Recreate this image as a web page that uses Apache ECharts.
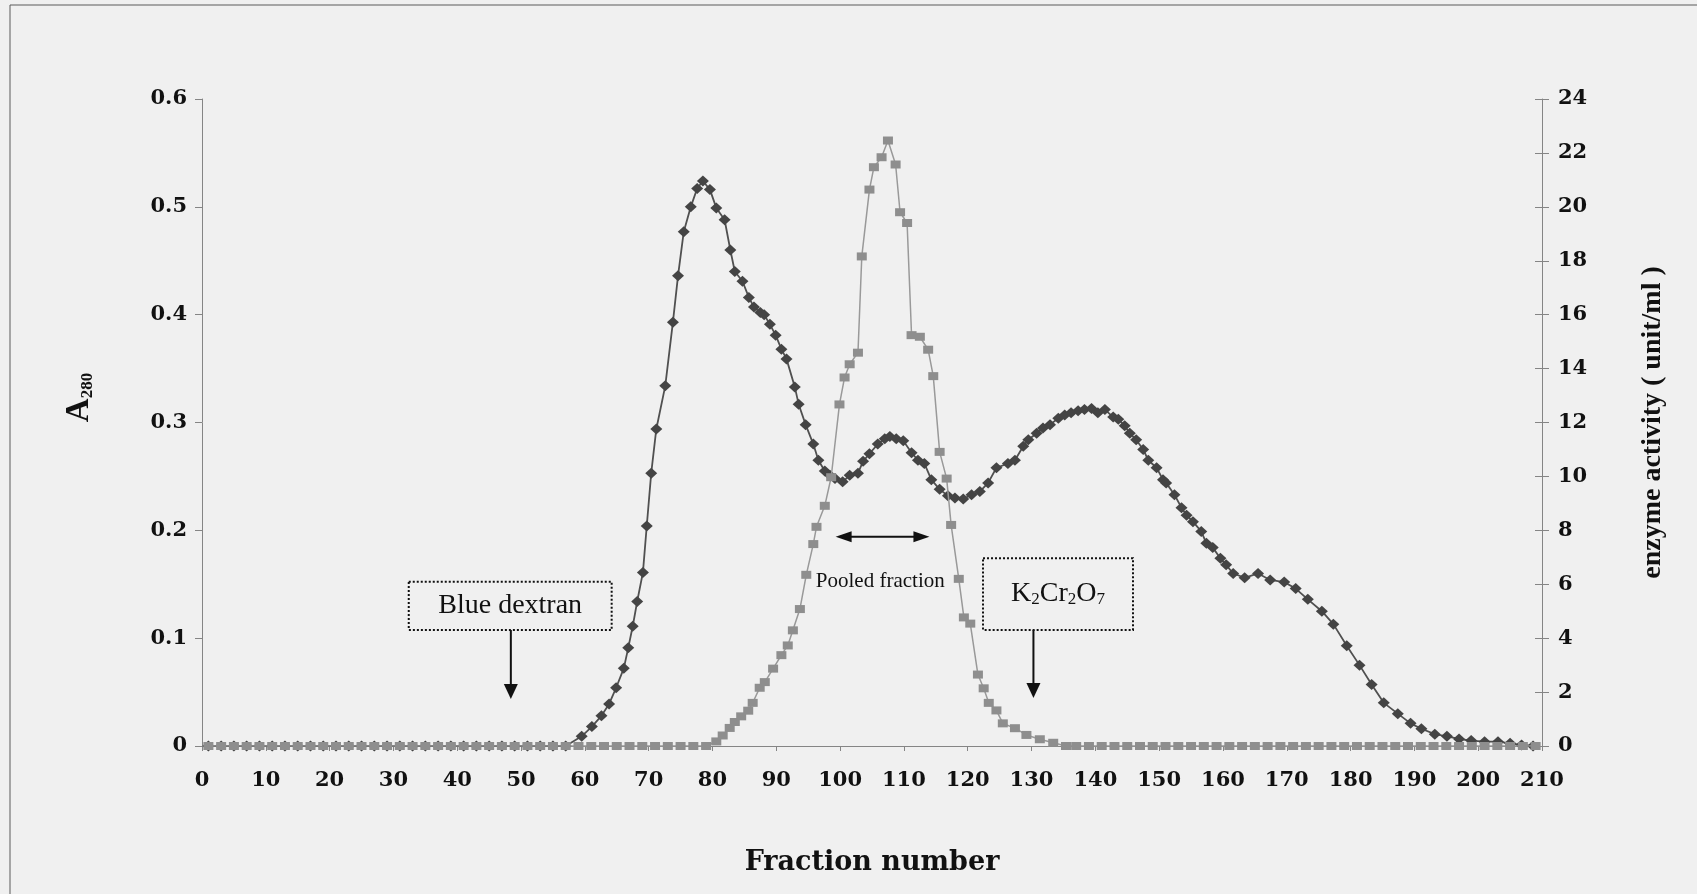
<!DOCTYPE html>
<html><head><meta charset="utf-8">
<script src="https://cdn.jsdelivr.net/npm/echarts@6/dist/echarts.min.js"></script>
<style>html,body{margin:0;padding:0;background:#f0f0f0}#c{width:1697px;height:894px}</style>
</head><body><div id="c"></div>
<script>
// ---- data ----
const xAxisRange = [0, 210];
const leftAxisRange = [0, 0.6];
const rightAxisRange = [0, 24];
const xAxisTitle = 'Fraction number';
const leftAxisTitle = '{a|A}{s|280}';
const rightAxisTitle = 'enzyme activity ( unit/ml )';

// A280 (left axis): [fraction, absorbance]
const a280Points = [
  [1,0],[3,0],[5,0],[7,0],[9,0],[11,0],[13,0],[15,0],[17,0],[19,0],[21,0],[23,0],[25,0],[27,0],[29,0],
  [31,0],[33,0],[35,0],[37,0],[39,0],[41,0],[43,0],[45,0],[47,0],[49,0],[51,0],[53,0],[55,0],[57,0],
  [59.5,0.009],[61.1,0.018],[62.6,0.028],[63.8,0.039],[64.9,0.054],[66.1,0.072],[66.8,0.091],[67.5,0.111],
  [68.2,0.134],[69.1,0.161],[69.7,0.204],[70.4,0.253],[71.2,0.294],[72.6,0.334],[73.8,0.393],[74.6,0.436],
  [75.5,0.477],[76.6,0.500],[77.6,0.517],[78.5,0.524],[79.6,0.516],[80.6,0.499],[81.9,0.488],[82.8,0.460],
  [83.5,0.440],[84.7,0.431],[85.7,0.416],[86.5,0.407],[87.5,0.402],[88.1,0.400],[89.0,0.391],[89.9,0.381],
  [90.8,0.368],[91.6,0.359],[92.9,0.333],[93.5,0.317],[94.6,0.298],[95.8,0.280],[96.6,0.265],[97.6,0.255],
  [98.4,0.251],[99.2,0.248],[100.4,0.245],[101.5,0.251],[102.8,0.253],[103.6,0.264],[104.6,0.271],[105.9,0.280],
  [107.0,0.285],[107.8,0.287],[108.8,0.285],[109.9,0.283],[111.2,0.272],[112.2,0.265],[113.2,0.262],[114.3,0.247],
  [115.6,0.238],[116.9,0.232],[118.0,0.230],[119.3,0.229],[120.6,0.233],[121.9,0.236],[123.2,0.244],[124.5,0.258],
  [126.3,0.262],[127.4,0.265],[128.7,0.278],[129.5,0.284],[130.8,0.290],[131.8,0.295],[132.9,0.298],[134.2,0.304],
  [135.2,0.307],[136.2,0.309],[137.3,0.311],[138.3,0.312],[139.4,0.313],[140.4,0.309],[141.5,0.312],[142.8,0.305],
  [143.6,0.303],[144.6,0.297],[145.4,0.290],[146.4,0.284],[147.5,0.275],[148.3,0.265],[149.6,0.258],[150.6,0.247],
  [151.1,0.244],[152.4,0.233],[153.5,0.221],[154.3,0.214],[155.3,0.208],[156.6,0.199],[157.4,0.188],[158.4,0.184],
  [159.6,0.174],[160.5,0.168],[161.6,0.160],[163.4,0.156],[165.5,0.160],[167.4,0.154],[169.6,0.152],[171.4,0.146],
  [173.3,0.136],[175.5,0.125],[177.3,0.113],[179.4,0.093],[181.4,0.075],[183.3,0.057],[185.2,0.040],[187.4,0.030],
  [189.4,0.021],[191.1,0.016],[193.2,0.011],[195.1,0.009],[197.0,0.0065],[198.9,0.005],[201.0,0.004],[203.1,0.004],
  [205.0,0.0025],[206.8,0.001],[208.6,0]
];

// enzyme activity (right axis): [fraction, unit/ml]
const enzymePoints = [
  [1,0],[3,0],[5,0],[7,0],[9,0],[11,0],[13,0],[15,0],[17,0],[19,0],[21,0],[23,0],[25,0],[27,0],[29,0],
  [31,0],[33,0],[35,0],[37,0],[39,0],[41,0],[43,0],[45,0],[47,0],[49,0],[51,0],[53,0],[55,0],[57,0],[59,0],
  [61,0],[63,0],[65,0],[67,0],[69,0],[71,0],[73,0],[75,0],[77,0],[79,0],
  [80.6,0.17],[81.6,0.39],[82.7,0.67],[83.5,0.89],[84.5,1.10],[85.6,1.31],[86.3,1.60],[87.4,2.16],[88.2,2.37],
  [89.5,2.87],[90.8,3.37],[91.8,3.73],[92.6,4.29],[93.7,5.08],[94.7,6.35],[95.8,7.49],[96.3,8.13],[97.6,8.91],
  [98.6,9.97],[99.9,12.67],[100.7,13.67],[101.5,14.16],[102.8,14.59],[103.4,18.16],[104.6,20.64],[105.3,21.47],
  [106.5,21.84],[107.5,22.46],[108.7,21.57],[109.4,19.80],[110.5,19.40],[111.2,15.24],[112.5,15.18],[113.8,14.70],
  [114.6,13.72],[115.6,10.91],[116.7,9.92],[117.4,8.20],[118.6,6.20],[119.4,4.77],[120.4,4.54],[121.6,2.65],
  [122.5,2.14],[123.3,1.60],[124.5,1.32],[125.5,0.84],[127.4,0.66],[129.2,0.41],[131.3,0.25],[133.4,0.12],
  [135.4,0],[137,0],[139,0],[141,0],[143,0],[145,0],[147,0],[149,0],[151,0],[153,0],[155,0],[157,0],[159,0],
  [161,0],[163,0],[165,0],[167,0],[169,0],[171,0],[173,0],[175,0],[177,0],[179,0],[181,0],[183,0],[185,0],
  [187,0],[189,0],[191,0],[193,0],[195,0],[197,0],[199,0],[201,0],[203,0],[205,0],[207,0],[209,0]
];

// annotations, in data units of the left axis
const notes = {
  blue:   { text: 'Blue dextran', box: [32.4, 0.1524, 64.2, 0.1076], arrowX: 48.4, tipY: 0.0436 },
  k2:     { text: '{n|K}{s|2}{n|Cr}{s|2}{n|O}{s|7}', box: [122.4, 0.1741, 145.9, 0.1076], arrowX: 130.3, tipY: 0.0445 },
  pooled: { text: 'Pooled fraction', from: 99.3, to: 114.0, y: 0.194, textX: 106.3, textY: 0.153 }
};

// ---- chart ----
const chart = echarts.init(document.getElementById('c'), null, { renderer: 'canvas' });
const axisGray = '#858585';
const tickFont = { fontFamily: '"DejaVu Serif"', fontWeight: 'bold', fontSize: 21, color: '#111' };

chart.setOption({
  backgroundColor: '#f0f0f0',
  animation: false,
  grid: { left: 202, right: 155, top: 99, bottom: 148, containLabel: false },
  xAxis: {
    type: 'value', min: xAxisRange[0], max: xAxisRange[1], interval: 10,
    name: xAxisTitle, nameLocation: 'middle', nameGap: 103,
    nameTextStyle: { fontFamily: '"DejaVu Serif"', fontWeight: 'bold', fontSize: 27, color: '#111' },
    axisLine: { onZero: false, lineStyle: { color: axisGray, width: 1 } },
    axisTick: { length: 5, lineStyle: { color: axisGray } },
    axisLabel: Object.assign({ margin: 24 }, tickFont),
    splitLine: { show: false }
  },
  yAxis: [
    {
      type: 'value', position: 'left', min: leftAxisRange[0], max: leftAxisRange[1], interval: 0.1,
      name: leftAxisTitle, nameLocation: 'middle', nameGap: 106, nameRotate: 90,
      nameTextStyle: { color: '#111', padding: [0, 0, 0, 50], rich: {
        a: { fontFamily: '"Liberation Serif"', fontWeight: 'bold', fontSize: 33, verticalAlign: 'bottom', color: '#111' },
        s: { fontFamily: '"Liberation Serif"', fontWeight: 'bold', fontSize: 17, verticalAlign: 'bottom', color: '#111' } } },
      axisLine: { show: true, lineStyle: { color: axisGray, width: 1 } },
      axisTick: { show: true, length: 7, lineStyle: { color: axisGray } },
      axisLabel: Object.assign({ margin: 15 }, tickFont),
      splitLine: { show: false }
    },
    {
      type: 'value', position: 'right', min: rightAxisRange[0], max: rightAxisRange[1], interval: 2,
      name: rightAxisTitle, nameLocation: 'middle', nameGap: 97, nameRotate: 90,
      nameTextStyle: { fontFamily: '"Liberation Serif"', fontWeight: 'bold', fontSize: 28, color: '#111' },
      axisLine: { show: true, lineStyle: { color: axisGray, width: 1 } },
      axisTick: { show: true, length: 7, lineStyle: { color: axisGray } },
      axisLabel: Object.assign({ margin: 16 }, tickFont),
      splitLine: { show: false }
    },
    {
      type: 'value', position: 'right', min: rightAxisRange[0], max: rightAxisRange[1], interval: 2,
      axisLine: { show: false }, axisLabel: { show: false },
      axisTick: { show: true, inside: true, length: 7, lineStyle: { color: axisGray } },
      splitLine: { show: false }
    }
  ],
  series: [
    {
      type: 'line', name: 'A280', xAxisIndex: 0, yAxisIndex: 0, data: a280Points,
      symbol: 'diamond', symbolSize: [12, 11], showSymbol: true, showAllSymbol: true,
      itemStyle: { color: '#444444' }, lineStyle: { color: '#505050', width: 1.8 }, z: 2
    },
    {
      type: 'line', name: 'enzyme activity', xAxisIndex: 0, yAxisIndex: 1, data: enzymePoints,
      symbol: 'rect', symbolSize: [10, 8], showSymbol: true, showAllSymbol: true,
      itemStyle: { color: '#8e8e8e' }, lineStyle: { color: '#999999', width: 1.5 }, z: 3
    }
  ]
});

function px(x, y) { return chart.convertToPixel({ xAxisIndex: 0, yAxisIndex: 0 }, [x, y]); }

function boxNote(n, textStyleExtra) {
  const p0 = px(n.box[0], n.box[1]);
  const p1 = px(n.box[2], n.box[3]);
  const a0 = px(n.arrowX, n.box[3]);
  const tip = px(n.arrowX, n.tipY);
  const head = 15, half = 7;
  return [
    { type: 'rect', shape: { x: p0[0], y: p0[1], width: p1[0] - p0[0], height: p1[1] - p0[1] },
      style: { fill: 'none', stroke: '#111', lineWidth: 2, lineDash: [2, 2] }, z: 10 },
    { type: 'text', x: (p0[0] + p1[0]) / 2, y: (p0[1] + p1[1]) / 2,
      style: Object.assign({ text: n.text, fill: '#111', font: '28px "Liberation Serif"', align: 'center', verticalAlign: 'middle' }, textStyleExtra || {}), z: 10 },
    { type: 'line', shape: { x1: a0[0], y1: a0[1], x2: tip[0], y2: tip[1] - head + 1 }, style: { stroke: '#111', lineWidth: 2 }, z: 10 },
    { type: 'polygon', shape: { points: [[tip[0] - half, tip[1] - head], [tip[0] + half, tip[1] - head], [tip[0], tip[1]]] }, style: { fill: '#111' }, z: 10 }
  ];
}

const W = chart.getWidth(), H = chart.getHeight();
let graphics = [
  { type: 'rect', shape: { x: 10, y: 5, width: W + 20, height: H + 20 }, style: { fill: 'none', stroke: '#5a5a5a', lineWidth: 1 }, z: 1 }
];
graphics = graphics.concat(boxNote(notes.blue));
graphics = graphics.concat(boxNote(notes.k2, {
  rich: {
    n: { fontFamily: '"Liberation Serif"', fontSize: 28, verticalAlign: 'bottom', fill: '#111' },
    s: { fontFamily: '"Liberation Serif"', fontSize: 17, verticalAlign: 'bottom', fill: '#111' }
  }
}));
(function () {
  const n = notes.pooled;
  const a = px(n.from, n.y), b = px(n.to, n.y), t = px(n.textX, n.textY);
  const head = 16, half = 5.5;
  graphics.push(
    { type: 'line', shape: { x1: a[0] + head - 2, y1: a[1], x2: b[0] - head + 2, y2: b[1] }, style: { stroke: '#111', lineWidth: 2 }, z: 10 },
    { type: 'polygon', shape: { points: [[a[0], a[1]], [a[0] + head, a[1] - half], [a[0] + head, a[1] + half]] }, style: { fill: '#111' }, z: 10 },
    { type: 'polygon', shape: { points: [[b[0], b[1]], [b[0] - head, b[1] - half], [b[0] - head, b[1] + half]] }, style: { fill: '#111' }, z: 10 },
    { type: 'text', x: t[0], y: t[1], style: { text: n.text, fill: '#111', font: '21px "Liberation Serif"', align: 'center', verticalAlign: 'middle' }, z: 10 }
  );
})();
chart.setOption({ graphic: graphics });
</script>
</body></html>
